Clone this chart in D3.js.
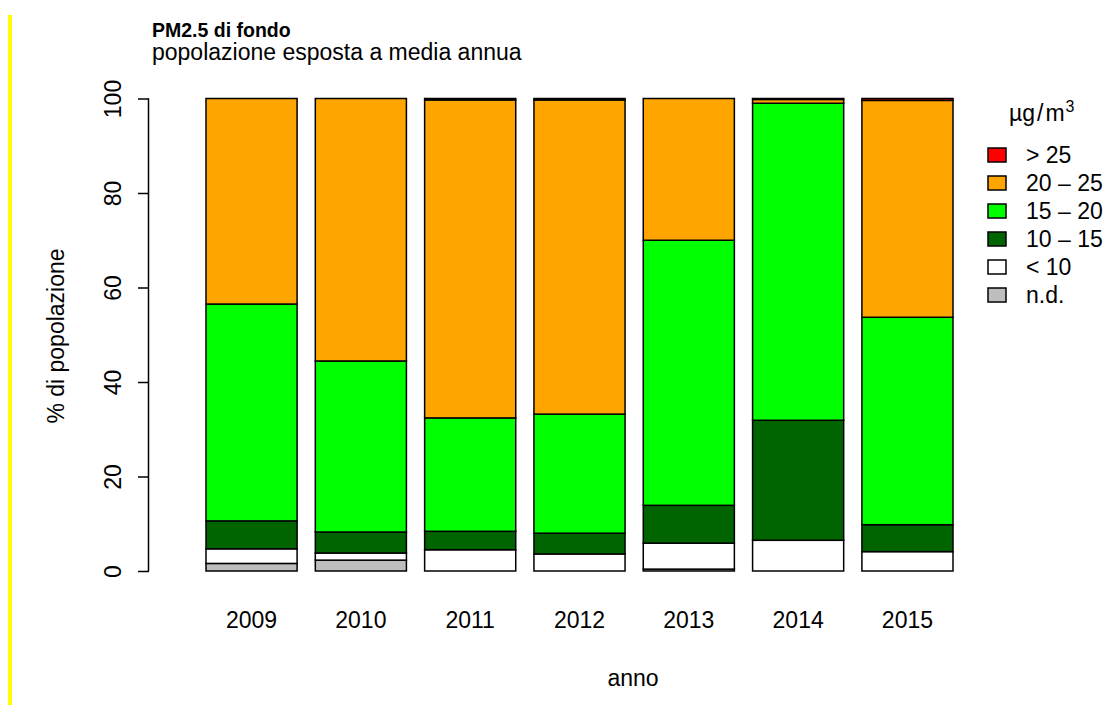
<!DOCTYPE html>
<html>
<head>
<meta charset="utf-8">
<script src="https://cdn.jsdelivr.net/npm/d3@7/dist/d3.min.js"></script>
<style>
  html, body { margin: 0; padding: 0; background: #fff; }
  svg { display: block; font-family: "Liberation Sans", Arial, Helvetica, sans-serif; }
</style>
</head>
<body>
<svg id="chart" width="1108" height="711"></svg>
<script>
// ---- data (percent of population, bottom to top) ----
const years = ["2009", "2010", "2011", "2012", "2013", "2014", "2015"];
const classKeys = ["nd", "lt10", "c1015", "c1520", "c2025", "gt25"];
const classLabels = ["n.d.", "< 10", "10 \u2013 15", "15 \u2013 20", "20 \u2013 25", "> 25"];
const classColors = ["#BEBEBE", "#FFFFFF", "#006400", "#00FF00", "#FFA500", "#FF0000"];
const nd    = [1.6, 2.3, 0.0, 0.0, 0.4, 0.0, 0.0];
const lt10  = [3.1, 1.5, 4.5, 3.6, 5.5, 6.5, 4.1];
const c1015 = [5.9, 4.45, 3.9, 4.4, 8.0, 25.4, 5.7];
const c1520 = [45.9, 36.2, 24.0, 25.2, 56.1, 67.1, 43.9];
const c2025 = [43.5, 55.55, 67.3, 66.5, 30.0, 0.8, 45.9];
const gt25  = [0.0, 0.0, 0.3, 0.3, 0.0, 0.2, 0.4];
const yTicks = [0, 20, 40, 60, 80, 100];

const series = { nd, lt10, c1015, c1520, c2025, gt25 };
const rows = years.map((y, i) => {
  const r = { year: y };
  classKeys.forEach(k => r[k] = series[k][i]);
  return r;
});

const svg = d3.select("#chart");
const font = 23;

// yellow side line
svg.append("rect").attr("x", 8).attr("y", 15).attr("width", 4).attr("height", 690).attr("fill", "#FFFF00");

const x = d3.scaleBand().domain(years).range([206, 953]).paddingInner(1 / 6).paddingOuter(0);
const y = d3.scaleLinear().domain([0, 100]).range([571, 98.5]);

const stack = d3.stack().keys(classKeys)(rows);

const g = svg.append("g");
stack.forEach((layer, li) => {
  g.selectAll(null).data(layer.filter(d => d[1] - d[0] > 0)).enter().append("rect")
    .attr("x", d => x(d.data.year))
    .attr("width", x.bandwidth())
    .attr("y", d => y(d[1]))
    .attr("height", d => y(d[0]) - y(d[1]))
    .attr("fill", classColors[li])
    .attr("stroke", "#000")
    .attr("stroke-width", 1.5);
});

// y axis
const yAxis = d3.axisLeft(y).tickValues(yTicks).tickSize(11).tickPadding(0).tickFormat(d3.format("d"));
const ya = svg.append("g").attr("transform", "translate(149,0)").call(yAxis);
ya.select(".domain").attr("d", `M-0.5,${y(0)}V${y(100)}`).attr("stroke", "#000").attr("stroke-width", 1.5).attr("fill", "none");
ya.selectAll(".tick line").attr("stroke", "#000").attr("stroke-width", 1.5);
ya.selectAll(".tick text")
  .attr("x", null).attr("dy", null)
  .attr("transform", "translate(-28,0) rotate(-90)")
  .attr("text-anchor", "middle")
  .attr("fill", "#000")
  .style("font-size", font + "px")
  .style("font-family", "Liberation Sans, Arial, sans-serif");

// x axis labels (no axis line in reference)
const xAxis = d3.axisBottom(x).tickSize(0).tickPadding(0);
const xa = svg.append("g").attr("transform", "translate(0,628)").call(xAxis);
xa.select(".domain").remove();
xa.selectAll(".tick text").attr("y", 0).attr("dy", null).attr("fill", "#000")
  .style("font-size", font + "px").style("font-family", "Liberation Sans, Arial, sans-serif");

// axis titles
svg.append("text").attr("x", 633).attr("y", 686).attr("text-anchor", "middle")
  .style("font-size", font + "px").text("anno");
svg.append("text").attr("transform", "translate(64,336) rotate(-90)").attr("text-anchor", "middle")
  .style("font-size", font + "px").text("% di popolazione");

// titles
svg.append("text").attr("x", 152).attr("y", 37).style("font-size", "19.5px").style("font-weight", "bold").text("PM2.5 di fondo");
svg.append("text").attr("x", 152).attr("y", 60).style("font-size", "23px").text("popolazione esposta a media annua");

// legend
const leg = svg.append("g");
const lt = leg.append("text").attr("x", 1009).attr("y", 121).style("font-size", font + "px");
lt.append("tspan").text("\u00B5g");
lt.append("tspan").attr("dx", 2).text("/");
lt.append("tspan").attr("dx", 2).text("m");
lt.append("tspan").attr("dx", 1).attr("dy", -9).style("font-size", "16px").text("3");
const legOrder = [5, 4, 3, 2, 1, 0];
legOrder.forEach((ci, i) => {
  const cy = 155 + i * 28;
  leg.append("rect").attr("x", 988).attr("y", cy - 7).attr("width", 18).attr("height", 14)
    .attr("fill", classColors[ci]).attr("stroke", "#000").attr("stroke-width", 1.5);
  leg.append("text").attr("x", 1026).attr("y", cy + 8).style("font-size", font + "px").text(classLabels[ci]);
});
</script>
</body>
</html>
